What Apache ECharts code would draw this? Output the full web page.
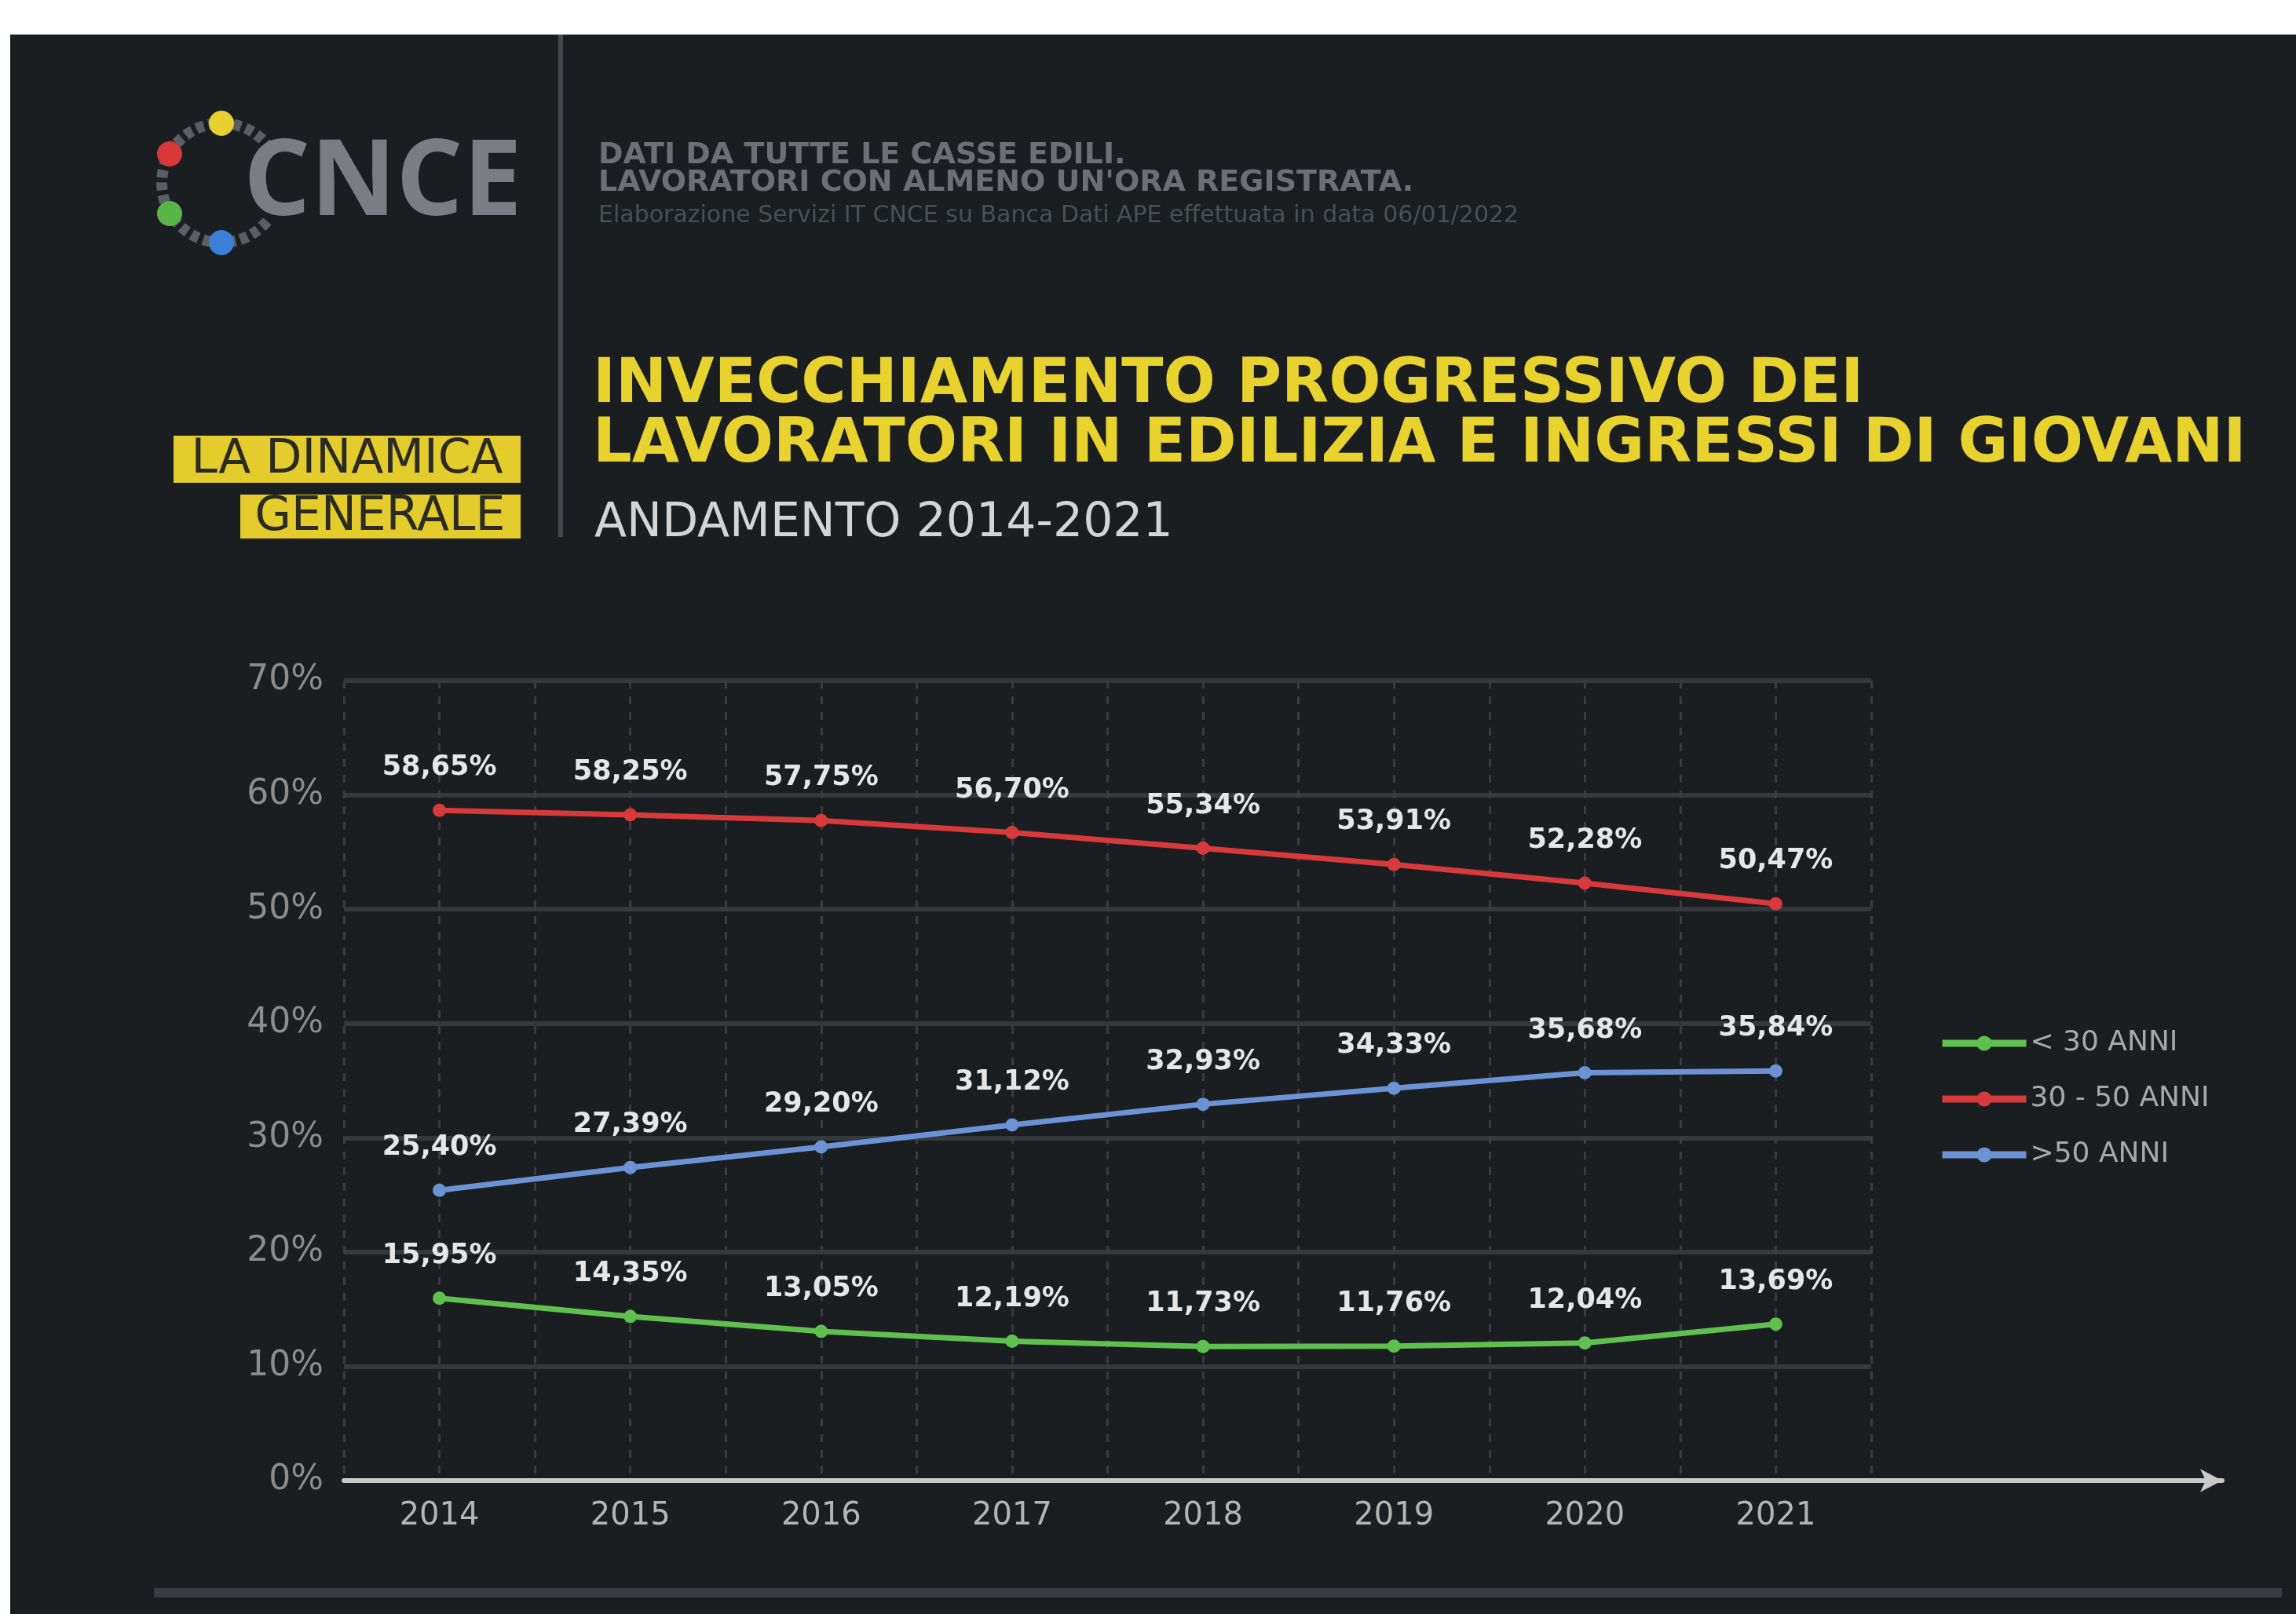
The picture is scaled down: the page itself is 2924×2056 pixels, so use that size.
<!DOCTYPE html>
<html>
<head>
<meta charset="utf-8">
<script src="https://cdn.jsdelivr.net/npm/echarts@6/dist/echarts.min.js"></script>
<style>
  html, body { margin: 0; padding: 0; background: #fff; }
  #chart {
    width: 2924px; height: 2056px;
    background:
      linear-gradient(#fff, #fff) top left / 100% 44px no-repeat,
      linear-gradient(#fff, #fff) top left / 13px 100% no-repeat,
      #1a1e21;
  }
</style>
</head>
<body>
<div id="chart"></div>
<script>
// anni e quote per fascia d'età (%)
var anni = ['2014', '2015', '2016', '2017', '2018', '2019', '2020', '2021'];
var under30 = [15.95, 14.35, 13.05, 12.19, 11.73, 11.76, 12.04, 13.69];
var da30a50 = [58.65, 58.25, 57.75, 56.70, 55.34, 53.91, 52.28, 50.47];
var over50 = [25.40, 27.39, 29.20, 31.12, 32.93, 34.33, 35.68, 35.84];
var nomiSerie = ['< 30 ANNI', '30 - 50 ANNI', '>50 ANNI'];

var FONT = '"DejaVu Sans"';

function etichetta(p) {
    return p.value.toFixed(2).replace('.', ',') + '%';
}

function serie(nome, dati, colore) {
    return {
        name: nome,
        type: 'line',
        data: dati,
        symbol: 'circle',
        symbolSize: 17,
        lineStyle: { color: colore, width: 7 },
        itemStyle: { color: colore },
        label: {
            show: true,
            position: 'top',
            distance: 28,
            color: '#e6e6e6',
            fontFamily: FONT,
            fontWeight: 'bold',
            fontSize: 35,
            formatter: etichetta
        }
    };
}

// logo, intestazione e titoli
var grafica = [
    { type: 'arc', shape: { cx: 282, cy: 233, r: 76, startAngle: 40 * Math.PI / 180, endAngle: 320 * Math.PI / 180, clockwise: true },
      style: { stroke: '#5b5f63', lineWidth: 14, fill: null, lineDash: [10, 6] } },
    { type: 'circle', shape: { cx: 282, cy: 157, r: 16 }, style: { fill: '#e8d030' } },
    { type: 'circle', shape: { cx: 216, cy: 196, r: 16 }, style: { fill: '#d83838' } },
    { type: 'circle', shape: { cx: 216, cy: 272, r: 16 }, style: { fill: '#58b548' } },
    { type: 'circle', shape: { cx: 282, cy: 309, r: 16 }, style: { fill: '#3b7fd9' } },
    { type: 'text', style: { text: 'CNCE', x: 310, y: 236, fill: '#7a7e82', font: 'bold 134px "Open Sans"', textVerticalAlign: 'middle' } },
    { type: 'rect', shape: { x: 711, y: 44, width: 6, height: 640 }, style: { fill: '#44484c' } },
    { type: 'rect', shape: { x: 221, y: 555, width: 442, height: 60 }, style: { fill: '#e3cc2c' } },
    { type: 'text', style: { text: 'LA DINAMICA', x: 442, y: 586, fill: '#2b2b22', font: '60px "DejaVu Sans"', textAlign: 'center', textVerticalAlign: 'middle' } },
    { type: 'rect', shape: { x: 306, y: 630, width: 357, height: 56 }, style: { fill: '#e3cc2c' } },
    { type: 'text', style: { text: 'GENERALE', x: 484, y: 659, fill: '#2b2b22', font: '60px "DejaVu Sans"', textAlign: 'center', textVerticalAlign: 'middle' } },
    { type: 'text', style: { text: 'DATI DA TUTTE LE CASSE EDILI.', x: 762, y: 198, fill: '#6c7074', font: 'bold 38px "DejaVu Sans"', textVerticalAlign: 'middle' } },
    { type: 'text', style: { text: "LAVORATORI CON ALMENO UN'ORA REGISTRATA.", x: 762, y: 233, fill: '#6c7074', font: 'bold 38px "DejaVu Sans"', textVerticalAlign: 'middle' } },
    { type: 'text', style: { text: 'Elaborazione Servizi IT CNCE su Banca Dati APE effettuata in data 06/01/2022', x: 762, y: 275, fill: '#4b5054', font: '30px "DejaVu Sans"', textVerticalAlign: 'middle' } },
    { type: 'text', style: { text: 'INVECCHIAMENTO PROGRESSIVO DEI', x: 755, y: 492, fill: '#e8d22e', font: 'bold 78px "DejaVu Sans"', textVerticalAlign: 'middle' } },
    { type: 'text', style: { text: 'LAVORATORI IN EDILIZIA E INGRESSI DI GIOVANI', x: 755, y: 568, fill: '#e8d22e', font: 'bold 78px "DejaVu Sans"', textVerticalAlign: 'middle' } },
    { type: 'text', style: { text: 'ANDAMENTO 2014-2021', x: 757, y: 667, fill: '#d4d4d4', font: '60px "DejaVu Sans"', textVerticalAlign: 'middle' } },
    { type: 'rect', shape: { x: 196, y: 2023, width: 2710, height: 12 }, style: { fill: '#3a3e42' } }
];

var option = {
    backgroundColor: 'transparent',
    animation: false,
    graphic: grafica,
    grid: [
        { left: 438, width: 1945, top: 867, height: 1019 },
        // solo per l'asse X con la freccia, più lungo della griglia
        { left: 438, width: 2392, top: 867, height: 1019 }
    ],
    legend: {
        data: nomiSerie,
        orient: 'vertical',
        left: 2464,
        top: 1304,
        itemWidth: 107,
        itemHeight: 24,
        itemGap: 31,
        lineStyle: { width: 9 },
        textStyle: { color: '#a8a8a8', fontFamily: FONT, fontSize: 36, lineHeight: 40 }
    },
    xAxis: [
        {
            type: 'category',
            data: anni,
            gridIndex: 0,
            axisLine: { show: false },
            axisTick: { show: false },
            splitLine: { show: false },
            axisLabel: { color: '#b4b4b4', fontFamily: FONT, fontSize: 40, margin: 26 }
        },
        {
            // linee verticali tratteggiate ogni mezzo anno
            type: 'value',
            gridIndex: 0,
            position: 'top',
            min: 0,
            max: 16,
            interval: 1,
            axisLine: { show: false },
            axisTick: { show: false },
            axisLabel: { show: false },
            splitLine: { show: true, lineStyle: { color: '#383c40', width: 3, type: [10, 10] } }
        },
        {
            type: 'value',
            gridIndex: 1,
            min: 0,
            max: 1,
            axisLine: { show: true, symbol: ['none', 'arrow'], symbolSize: [22, 28], lineStyle: { color: '#c9c9c9', width: 6 } },
            axisTick: { show: false },
            axisLabel: { show: false },
            splitLine: { show: false }
        }
    ],
    yAxis: [
        {
            type: 'value',
            gridIndex: 0,
            min: 0,
            max: 70,
            interval: 10,
            axisLine: { show: false },
            axisTick: { show: false },
            axisLabel: { color: '#8c8c8c', fontFamily: FONT, fontSize: 44, margin: 26, formatter: '{value}%' },
            splitLine: { show: true, lineStyle: { color: '#35393c', width: 6 } }
        },
        { type: 'value', gridIndex: 1, min: 0, max: 1, show: false }
    ],
    series: [
        serie(nomiSerie[0], under30, '#5fbf4f'),
        serie(nomiSerie[1], da30a50, '#d8393a'),
        serie(nomiSerie[2], over50, '#6a92d4')
    ]
};

var myChart = echarts.init(document.getElementById('chart'));
myChart.setOption(option, true);
</script>
</body>
</html>
